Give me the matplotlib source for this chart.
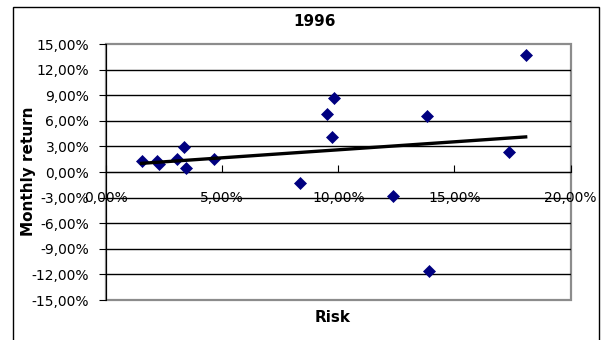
import numpy as np
import matplotlib
matplotlib.use("Agg")
import matplotlib.pyplot as plt
from matplotlib.patches import Rectangle
from matplotlib.ticker import FuncFormatter

# risk / monthly return per stock, in percent
risk = [1.53, 2.21, 2.30, 3.07, 3.37, 3.44, 4.66, 8.35,
        9.53, 9.73, 9.83, 12.37, 13.83, 13.92, 17.36, 18.07]
ret = [1.33, 1.33, 0.90, 1.52, 2.97, 0.50, 1.52, -1.33,
       6.80, 4.14, 8.71, -2.81, 6.60, -11.60, 2.38, 13.70]

xticks = [0, 5, 10, 15, 20]
yticks = [-15, -12, -9, -6, -3, 0, 3, 6, 9, 12, 15]

plt.rcParams['font.family'] = ['DejaVu Sans']


def pct(v, pos=None):
    return ('%.2f%%' % v).replace('.', ',')


fig = plt.figure(figsize=(6.07, 3.40), dpi=100)
fig.patch.set_facecolor('white')

# chart border
fig.patches.append(Rectangle((13 / 607, -0.1), 586 / 607, 1.1 - 7 / 340,
                             transform=fig.transFigure, fill=False,
                             edgecolor='black', linewidth=1.0))

ax = fig.add_axes([106 / 607, 1 - 300 / 340, 464.5 / 607, 256 / 340])
ax.set_xlim(0, 20)
ax.set_ylim(-15, 15)

# plot area frame
ax.add_patch(Rectangle((0, 0), 1, 1, transform=ax.transAxes, fill=False,
                       edgecolor='#8c8c8c', linewidth=1.6, zorder=1,
                       clip_on=False))
for s in ['top', 'right']:
    ax.spines[s].set_visible(False)
ax.spines['bottom'].set_position(('data', 0))
ax.spines['bottom'].set_color('black')
ax.spines['left'].set_color('black')
ax.spines['left'].set_zorder(3)

for y in yticks[1:-1]:
    ax.axhline(y, color='black', linewidth=1.0, zorder=1)

ax.set_xticks(xticks)
ax.set_yticks(yticks)
ax.xaxis.set_major_formatter(FuncFormatter(pct))
ax.yaxis.set_major_formatter(FuncFormatter(pct))
ax.tick_params(axis='x', direction='in', length=5, pad=14, labelsize=10,
               color='black')
ax.tick_params(axis='y', direction='out', length=5, pad=7, labelsize=10,
               color='black')

ax.plot(risk, ret, linestyle='none', marker='D', markersize=5.8,
        color='#000080', markeredgewidth=0.5, zorder=4, clip_on=False)

# linear trend line
k, b = np.polyfit(risk, ret, 1)
xs = np.array([min(risk), max(risk)])
ax.plot(xs, k * xs + b, color='black', linewidth=2.4, zorder=5)

fig.text(315 / 607, 1 - 22 / 340, '1996', ha='center', va='center',
         fontsize=11, fontweight='bold')
fig.text(333 / 607, 1 - 317 / 340, 'Risk', ha='center', va='center',
         fontsize=11, fontweight='bold')
fig.text(28 / 607, 1 - 171 / 340, 'Monthly return', ha='center',
         va='center', rotation=90, fontsize=11, fontweight='bold')

fig.savefig('out.png', dpi=100)
